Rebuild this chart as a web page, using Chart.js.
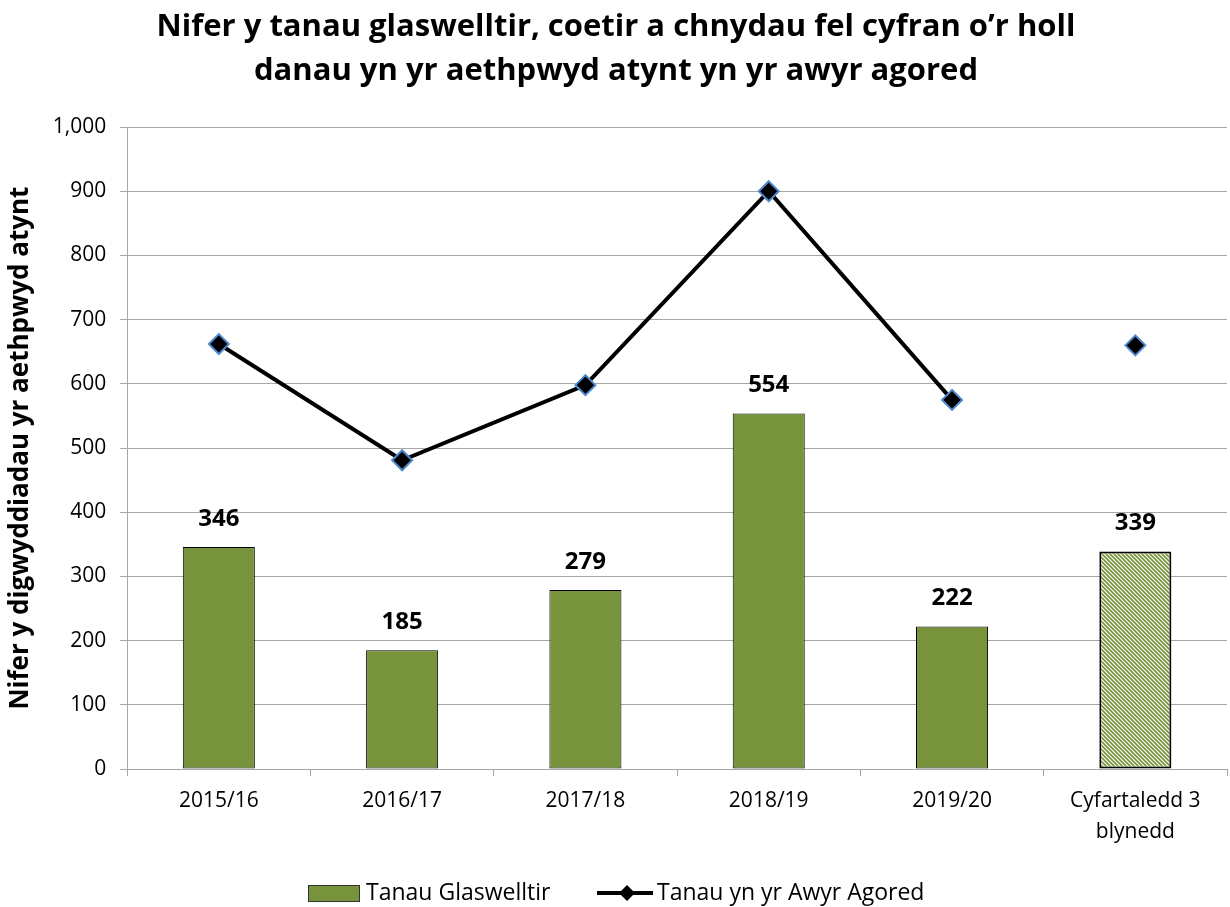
<!DOCTYPE html>
<html>
<head>
<meta charset="utf-8">
<script src="https://cdn.jsdelivr.net/npm/chart.js"></script>
<style>
  html, body { margin: 0; padding: 0; background: #fff; overflow: hidden; }
  #wrap { width: 1230px; height: 907px; }
  canvas { display: block; }
</style>
</head>
<body>
<div id="wrap"><canvas id="fireChart" width="1230" height="907"></canvas></div>
<script>
// Data
const categories = ['2015/16', '2016/17', '2017/18', '2018/19', '2019/20', ['Cyfartaledd 3', 'blynedd']];
const grassFires = [346, 185, 279, 554, 222, 339];
const outdoorFires = [662, 481, 598, 900, 575, 660];
const seriesNames = ['Tanau Glaswelltir', 'Tanau yn yr Awyr Agored'];
const titleLines = ['Nifer y tanau glaswelltir, coetir a chnydau fel cyfran o\u2019r holl', 'danau yn yr aethpwyd atynt yn yr awyr agored'];
const yTitle = 'Nifer y digwyddiadau yr aethpwyd atynt';

// Colours / fonts
const barGreen = '#77933C';
const markerBlue = '#4F8AD0';
const gridGrey = '#A6A6A6';
const fontName = '"Open Sans", sans-serif';

// hatched fill for the average bar (stripes running top-left to bottom-right)
function makeHatch() {
    const c = document.createElement('canvas');
    c.width = 4; c.height = 4;
    const g = c.getContext('2d');
    g.fillStyle = '#fff';
    g.fillRect(0, 0, 4, 4);
    g.strokeStyle = barGreen;
    g.lineWidth = 1.6;
    g.beginPath();
    g.moveTo(-1, -1); g.lineTo(5, 5);
    g.moveTo(-1, 3); g.lineTo(1, 5);
    g.moveTo(3, -1); g.lineTo(5, 1);
    g.stroke();
    return g.createPattern(c, 'repeat');
}
const hatch = makeHatch();
const lastIdx = grassFires.length - 1;
const barFills = grassFires.map((_, i) => i === lastIdx ? hatch : barGreen);
const barBorders = grassFires.map((_, i) => i === lastIdx ? 2 : 1);

// value labels above the bars
const barLabels = {
    id: 'barLabels',
    afterDatasetsDraw(chart) {
        const ctx = chart.ctx;
        const meta = chart.getDatasetMeta(0);
        ctx.save();
        ctx.font = 'bold 24px ' + fontName;
        ctx.fillStyle = '#000';
        ctx.textAlign = 'center';
        ctx.textBaseline = 'middle';
        meta.data.forEach((bar, i) => {
            ctx.fillText(String(grassFires[i]), bar.x, bar.y - 28);
        });
        ctx.restore();
    }
};

// bottom legend: box for bars, line + diamond for the line series
const customLegend = {
    id: 'customLegend',
    afterDraw(chart) {
        const ctx = chart.ctx;
        const y = 893;
        ctx.save();
        ctx.font = '23px ' + fontName;
        ctx.textBaseline = 'middle';
        ctx.fillStyle = barGreen;
        ctx.fillRect(308, y - 8, 52, 17);
        ctx.strokeStyle = '#333';
        ctx.lineWidth = 1;
        ctx.strokeRect(308.5, y - 7.5, 51, 16);
        ctx.fillStyle = '#000';
        ctx.fillText(seriesNames[0], 366, y);

        ctx.strokeStyle = '#000';
        ctx.lineWidth = 4;
        ctx.beginPath();
        ctx.moveTo(597, y);
        ctx.lineTo(653, y);
        ctx.stroke();
        ctx.beginPath();
        ctx.moveTo(627, y - 8);
        ctx.lineTo(635, y);
        ctx.lineTo(627, y + 8);
        ctx.lineTo(619, y);
        ctx.closePath();
        ctx.fillStyle = '#000';
        ctx.fill();
        ctx.fillText(seriesNames[1], 657, y);
        ctx.restore();
    }
};

function initChart() {
    const el = document.getElementById('fireChart');
    new Chart(el.getContext('2d'), {
        type: 'bar',
        data: {
            labels: categories,
            datasets: [
                {
                    label: seriesNames[0],
                    data: grassFires,
                    backgroundColor: barFills,
                    borderColor: '#000',
                    borderWidth: barBorders,
                    borderSkipped: false,
                    barPercentage: 0.393,
                    categoryPercentage: 1,
                    order: 2
                },
                {
                    label: seriesNames[1],
                    data: outdoorFires,
                    type: 'line',
                    borderColor: '#000',
                    borderWidth: 4,
                    tension: 0,
                    pointStyle: 'rectRot',
                    pointRadius: 10,
                    pointBackgroundColor: '#000',
                    pointBorderColor: markerBlue,
                    pointBorderWidth: 2,
                    // no line to the average marker
                    segment: {
                        borderColor: ctx => ctx.p1DataIndex === lastIdx ? 'rgba(0,0,0,0)' : '#000'
                    },
                    order: 1
                }
            ]
        },
        options: {
            responsive: false,
            animation: false,
            layout: { autoPadding: false, padding: { left: 5, right: 3, top: 5, bottom: 50 } },
            plugins: {
                legend: { display: false },
                tooltip: { enabled: false },
                title: {
                    display: true,
                    text: titleLines,
                    color: '#000',
                    font: { family: fontName, size: 31, weight: 'bold', lineHeight: 1.42 },
                    padding: { top: 0, bottom: 34 }
                }
            },
            scales: {
                x: {
                    grid: { drawOnChartArea: false, drawTicks: true, tickLength: 7, color: gridGrey },
                    border: { color: gridGrey, width: 1 },
                    ticks: { color: '#000', font: { family: fontName, size: 21, lineHeight: 1.45 }, padding: 10, maxRotation: 0 }
                },
                y: {
                    min: 0,
                    max: 1000,
                    ticks: {
                        stepSize: 100,
                        color: '#000',
                        font: { family: fontName, size: 21 },
                        padding: 14,
                        callback: v => v.toLocaleString('en-GB')
                    },
                    grid: { color: gridGrey, tickLength: 7 },
                    border: { color: gridGrey },
                    title: {
                        display: true,
                        text: yTitle,
                        color: '#000',
                        font: { family: fontName, size: 26, weight: 'bold' },
                        padding: { top: 0, bottom: 2.5 }
                    }
                }
            }
        },
        plugins: [barLabels, customLegend]
    });
}

document.addEventListener('DOMContentLoaded', initChart);
</script>
</body>
</html>
